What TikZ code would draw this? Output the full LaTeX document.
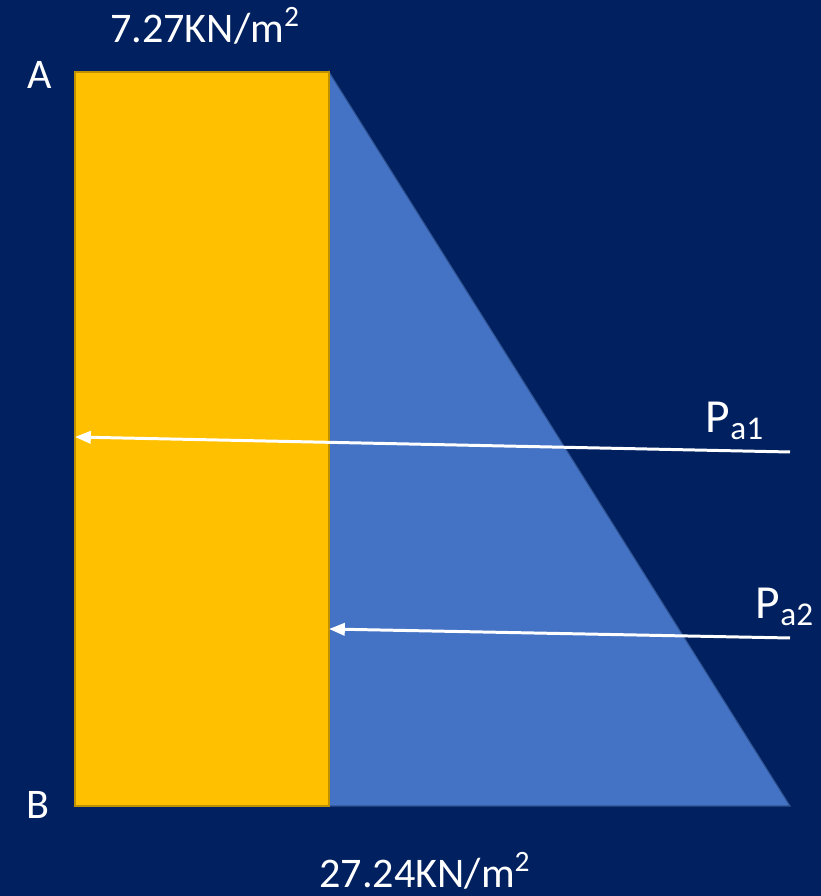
\documentclass[tikz,border=0pt]{standalone}
\usepackage{fontspec}
\setmainfont{Carlito}
\usetikzlibrary{arrows.meta}
\definecolor{navybg}{HTML}{002060}
\definecolor{wallfill}{HTML}{FFC000}
\definecolor{walledge}{HTML}{BF9000}
\definecolor{pressfill}{HTML}{4472C4}
\definecolor{pressedge}{HTML}{2F528F}
\tikzset{
    lbl/.style={text=white, font=\fontsize{24}{28}\selectfont, inner sep=0pt},
    plbl/.style={text=white, font=\fontsize{27}{31}\selectfont, inner sep=0pt},
    force/.style={white, line width=1.7pt, -{Triangle[length=9pt, width=7pt]}}
}
\begin{document}
\begin{tikzpicture}[scale=1]
    \fill[navybg] (0,0) rectangle (16.42,17.92);
    \useasboundingbox (0,0) rectangle (16.42,17.92);
    % Pressure triangle
    \draw[pressedge, fill=pressfill, line width=0.6pt] (6.58,16.48) -- (15.8,1.8) -- (6.58,1.8) -- cycle;
    % Wall
    \draw[walledge, fill=wallfill, line width=0.8pt] (1.5,1.8) rectangle (6.58,16.48);
    % Labels
    \node[lbl] (topA) at (0.8,16.42) {A};
    \node[lbl] (botB) at (0.76,1.82) {B};
    \node[lbl] (qtop) at (4.1,17.4) {7.27KN/m\textsuperscript{2}};
    \node[lbl] (qbot) at (8.5,0.5) {27.24KN/m\textsuperscript{2}};
    \node[plbl] (pa1) at (14.7,9.5) {P\textsubscript{a1}};
    \node[plbl] (pa2) at (15.7,5.78) {P\textsubscript{a2}};
    % Resultant forces
    \coordinate (pa1s) at (15.8,8.88);
    \coordinate (pa1e) at (1.5,9.18);
    \coordinate (pa2s) at (15.8,5.16);
    \coordinate (pa2e) at (6.58,5.34);
    \draw[force] (pa1s) -- (pa1e);
    \draw[force] (pa2s) -- (pa2e);
\end{tikzpicture}
\end{document}
